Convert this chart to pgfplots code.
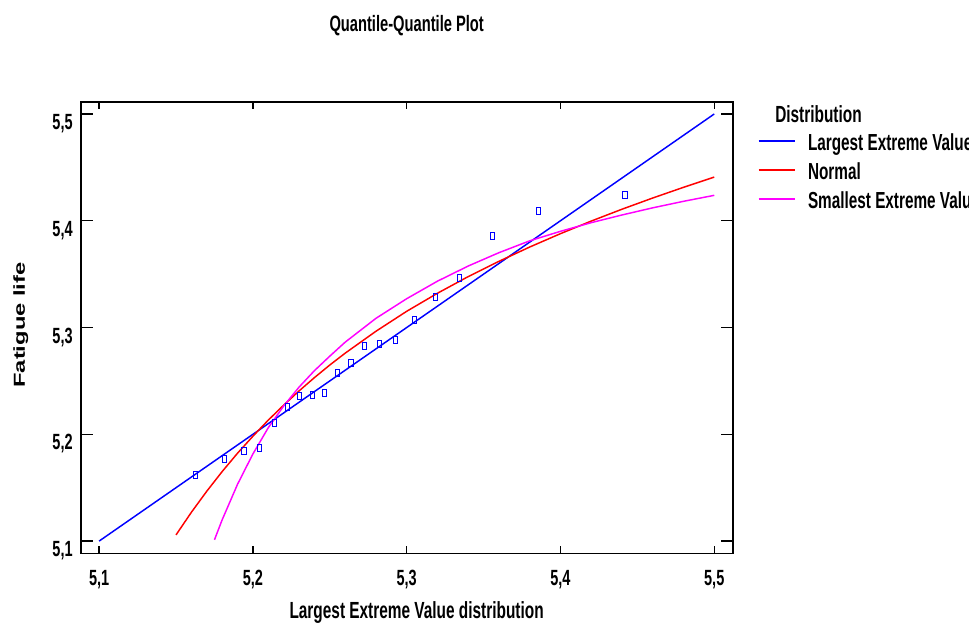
\documentclass[border=0pt]{standalone}
\usepackage{fontspec}
\setmainfont{Liberation Sans}[FakeStretch=0.66]
\newfontfamily\ylabfont{Liberation Sans}
\usepackage{pgfplots}
\pgfplotsset{compat=1.18}
\definecolor{qblue}{RGB}{0,0,255}
\definecolor{qred}{RGB}{255,0,0}
\definecolor{qmag}{RGB}{255,0,255}
\begin{document}
\begin{tikzpicture}
\useasboundingbox (-60.5pt,-53.8pt) rectangle (666.2pt,415pt);
\begin{axis}[
  at={(0pt,0pt)}, anchor=south west,
  scale only axis, width=489pt, height=338.5pt,
  xmin=5.088, xmax=5.512, ymin=5.0885, ymax=5.5112,
  xtick={5.1,5.2,5.3,5.4,5.5}, ytick={5.1,5.2,5.3,5.4,5.5},
  axis line style={line width=1.3pt},
  tick align=inside,
  major tick length=9pt,
  xtick style={line width=1pt, /pgfplots/major tick length=5.25pt, black},
  ytick style={line width=1pt, black},
  /pgf/number format/.cd, use comma, fixed, fixed zerofill, precision=1, assume math mode=true,
  /pgfplots/.cd,
  ticklabel style={font=\bfseries\fontsize{16.5}{16.5}\selectfont},
  xticklabel style={anchor=north, inner sep=0pt, yshift=-12.5pt},
  yticklabel style={anchor=north east, inner sep=0pt, xshift=-5.8pt},
  title={Quantile-Quantile Plot},
  every axis title/.style={at={(axis description cs:0.5,1)}, anchor=base, yshift=53.25pt, inner sep=0pt, font=\bfseries\fontsize{16.7}{16.7}\selectfont},
  xlabel={Largest Extreme Value distribution},
  every axis x label/.style={at={(axis description cs:0.5152,0)}, anchor=base, yshift=-48.5pt, inner sep=0pt, font=\bfseries\fontsize{17.5}{17.5}\selectfont},
  ylabel={\scalebox{1}[0.67]{Fatigue life}},
  every axis y label/.style={at={(axis description cs:-0.0854,0.506)}, rotate=90, anchor=base, inner sep=0pt, font=\ylabfont\bfseries\fontsize{17.8}{17.8}\selectfont},
  legend style={draw=none, fill=none, at={(axis description cs:1.0388,0.9358)}, anchor=north west, inner sep=0pt, outer sep=0pt, row sep=0pt, column sep=9.5pt, font=\bfseries\fontsize{17.4}{17.4}\selectfont, nodes={inner sep=0pt, text height=15pt, text depth=6.75pt}},
  legend cell align=left,
  legend image code/.code={\draw[#1, line width=1pt] (0pt,3.4pt) -- (27pt,3.4pt);},
]
\addplot[qblue, line width=1.1pt] coordinates {(5.1,5.1) (5.5,5.5)};
\addlegendentry{Largest Extreme Value}
\addplot[qred, line width=1.1pt] coordinates {
(5.150,5.1058) (5.160,5.1270) (5.170,5.1467) (5.180,5.1651) (5.190,5.1823)
(5.200,5.1982) (5.210,5.2133) (5.220,5.2273) (5.230,5.2406) (5.240,5.2531)
(5.250,5.2649) (5.260,5.2760) (5.280,5.2965) (5.300,5.3152) (5.320,5.3321)
(5.340,5.3477) (5.360,5.3620) (5.380,5.3754) (5.400,5.3879) (5.420,5.3997)
(5.440,5.4108) (5.460,5.4213) (5.480,5.4313) (5.500,5.4409)};
\addlegendentry{Normal}
\addplot[qmag, line width=1.1pt] coordinates {
(5.175,5.1012) (5.180,5.1199) (5.190,5.1532) (5.200,5.1816) (5.210,5.2062)
(5.220,5.2265) (5.230,5.2442) (5.240,5.2596) (5.250,5.2732) (5.260,5.2863)
(5.280,5.3086) (5.300,5.3270) (5.320,5.3434) (5.340,5.3576) (5.360,5.3701)
(5.380,5.3812) (5.400,5.3901) (5.420,5.3982) (5.440,5.4054) (5.460,5.4121)
(5.480,5.4182) (5.500,5.4238)};
\addlegendentry{Smallest Extreme Value}
\addplot[only marks, mark=square, mark size=2.6pt, mark options={qblue, xscale=0.6, line width=0.75pt}, forget plot] coordinates {
(5.1625,5.1621) (5.1816,5.1771) (5.1942,5.1846) (5.2045,5.1874) (5.2138,5.2108)
(5.2223,5.2252) (5.2305,5.2355) (5.2385,5.2371) (5.2463,5.2383) (5.2552,5.2577)
(5.2638,5.2665) (5.2723,5.2824) (5.2823,5.2848) (5.2927,5.2883) (5.3050,5.3073)
(5.3186,5.3289) (5.3346,5.3467) (5.3556,5.3857) (5.3859,5.4091) (5.4420,5.4238)};
\end{axis}
\node[anchor=base west, inner sep=0pt, font=\bfseries\fontsize{17.5}{17.5}\selectfont] at (520.7pt,323.25pt) {Distribution};
\end{tikzpicture}
\end{document}
